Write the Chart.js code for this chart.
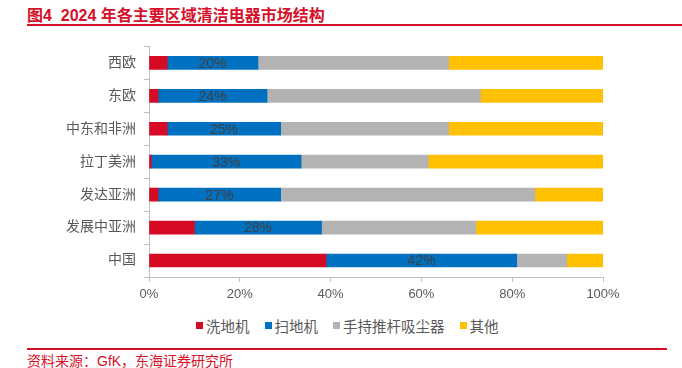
<!DOCTYPE html>
<html>
<head>
<meta charset="utf-8">
<script src="https://cdn.jsdelivr.net/npm/chart.js@4/dist/chart.umd.min.js"></script>
<style>
  body { margin: 0; background: #fff; font-family: "Liberation Sans", "Noto Sans CJK SC", sans-serif; }
  #wrap { position: relative; width: 682px; height: 368px; overflow: hidden; }
  #title { position: absolute; left: 27px; top: 2px; font-size: 16px; font-weight: bold; color: #d7102a; white-space: nowrap; }
  #topline { position: absolute; left: 27px; top: 24px; width: 655px; height: 2px; background: #d7102a; }
  #chartbox { position: absolute; left: 0; top: 30px; width: 682px; height: 280px; }
  #legend { position: absolute; left: 196px; top: 315px; display: flex; align-items: center; font-size: 14.5px; color: #595959; white-space: nowrap; }
  #legend .item { display: flex; align-items: center; margin-right: 15px; }
  #legend .box { width: 7px; height: 7px; margin-right: 3px; }
  #botline { position: absolute; left: 27px; top: 348px; width: 640px; height: 1.5px; background: #d7102a; }
  #source { position: absolute; left: 27px; top: 350px; font-size: 14px; color: #d7102a; white-space: nowrap; }
</style>
</head>
<body>
<div id="wrap">
  <div id="title">图4&nbsp;&nbsp;2024 年各主要区域清洁电器市场结构</div>
  <div id="topline"></div>
  <div id="chartbox"><canvas id="bar_chart" width="682" height="280"></canvas></div>
  <div id="legend"></div>
  <div id="botline"></div>
  <div id="source">资料来源：GfK，东海证券研究所</div>
</div>
<script>
// regions, top to bottom
var regions = ["西欧", "东欧", "中东和非洲", "拉丁美洲", "发达亚洲", "发展中亚洲", "中国"];
// shares in %
var scrubber = [4, 2, 4, 0.5, 2, 10, 39];      // 洗地机
var robot    = [20, 24, 25, 33, 27, 28, 42];   // 扫地机
var stick    = [42, 47, 37, 28, 56, 34, 11];   // 手持推杆吸尘器
var others   = [34, 27, 34, 38.5, 15, 28, 8];  // 其他
var seriesNames = ["洗地机", "扫地机", "手持推杆吸尘器", "其他"];
var seriesColors = ["#d50b25", "#0070c0", "#b3b3b3", "#ffc000"];
var xTicks = [0, 20, 40, 60, 80, 100];

var axisColor = "#bfbfbf";
var font = "'Liberation Sans', 'Noto Sans CJK SC', sans-serif";

// labels only on the blue series
var blueLabels = {
  id: "blueLabels",
  afterDatasetsDraw: function(chart) {
    var ctx = chart.ctx;
    var meta = chart.getDatasetMeta(1);
    ctx.save();
    ctx.font = "14px " + font;
    ctx.fillStyle = "#404040";
    ctx.textAlign = "center";
    ctx.textBaseline = "middle";
    meta.data.forEach(function(bar, i) {
      var cx = (bar.x + bar.base) / 2;
      ctx.fillText(Math.round(robot[i]) + "%", cx, bar.y + 1);
    });
    ctx.restore();
  }
};

var allData = [scrubber, robot, stick, others];

new Chart(document.getElementById("bar_chart"), {
  type: "bar",
  data: {
    labels: regions,
    datasets: seriesNames.map(function(name, i) {
      return { label: name, data: allData[i], backgroundColor: seriesColors[i] };
    })
  },
  options: {
    indexAxis: "y",
    responsive: false,
    animation: false,
    layout: { padding: { top: 14, right: 79, left: 0, bottom: 3 } },
    datasets: { bar: { barThickness: 13 } },
    scales: {
      x: {
        stacked: true,
        min: 0,
        max: 100,
        afterBuildTicks: function(scale) { scale.ticks = xTicks.map(function(v) { return { value: v }; }); },
        afterFit: function(scale) { scale.height = 30; },
        border: { color: axisColor },
        grid: { drawOnChartArea: false, color: axisColor, tickLength: 5 },
        ticks: { color: "#595959", font: { size: 13, family: font }, padding: 5, callback: function(v) { return v + "%"; } }
      },
      y: {
        stacked: true,
        afterFit: function(scale) { scale.width = 149; },
        border: { color: axisColor },
        grid: { drawOnChartArea: false, offset: true, color: axisColor, tickLength: 5 },
        ticks: { color: "#595959", font: { size: 14, family: font }, padding: 8 }
      }
    },
    plugins: {
      legend: { display: false },
      tooltip: { enabled: false }
    }
  },
  plugins: [blueLabels]
});

// html legend
var legend = document.getElementById("legend");
seriesNames.forEach(function(name, i) {
  var item = document.createElement("div");
  item.className = "item";
  var box = document.createElement("span");
  box.className = "box";
  box.style.background = seriesColors[i];
  var txt = document.createElement("span");
  txt.textContent = name;
  item.appendChild(box);
  item.appendChild(txt);
  legend.appendChild(item);
});
</script>
</body>
</html>
